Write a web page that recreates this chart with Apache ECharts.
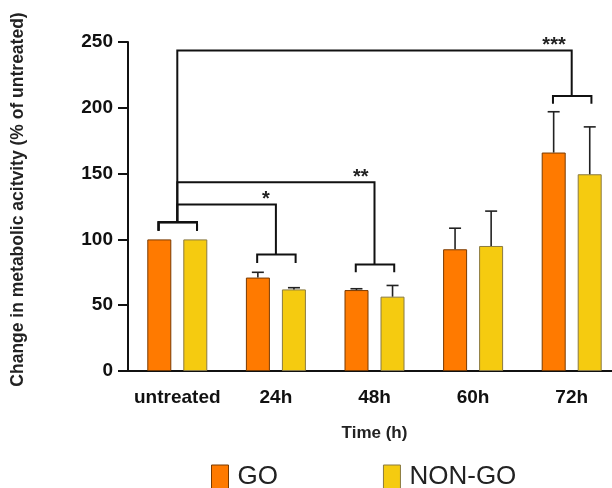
<!DOCTYPE html>
<html>
<head>
<meta charset="utf-8">
<script src="https://cdn.jsdelivr.net/npm/echarts@6/dist/echarts.min.js"></script>
<style>
  html, body { margin: 0; padding: 0; background: #fff; }
  #chart { width: 612px; height: 488px; }
</style>
</head>
<body>
<div id="chart"></div>
<script>
// data
var categories = ['untreated', '24h', '48h', '60h', '72h'];
var goMean = [100, 71, 61.5, 92.5, 166];
var goErr = [100, 75, 62.5, 108.5, 197];       // upper end of error bar
var nonGoMean = [100, 62, 56.5, 95, 149.5];
var nonGoErr = [100, 63.3, 65, 121.5, 185.5];

// significance brackets: untreated vs target group
var sigTarget = [1, 2, 4];
var sigLabel = ['*', '**', '***'];
var sigTop = [126.5, 143.5, 243.5];     // level of the long horizontal line
var sigGroupY = [88.5, 81, 209];        // level of the small bracket over the target pair
var sigGroupLeg = [82, 75, 203];        // bottom of its legs
var refGroupY = 113;                    // small bracket over untreated pair
var refGroupLeg = 106.5;

var FONT = '"Liberation Sans", Arial, sans-serif';
var BAR_OFF = 0.183;   // bar centre offset, in category widths

var chart = echarts.init(document.getElementById('chart'));

function errorItem(offset, means, errs) {
    return function (params, api) {
        var i = api.value(0);
        var band = api.size([1, 0])[0];
        var base = api.coord([i, means[i]]);
        var top = api.coord([i, errs[i]]);
        var x = base[0] + offset * band;
        if (errs[i] <= means[i]) return null;
        return {
            type: 'group',
            children: [
                { type: 'line', shape: { x1: x, y1: base[1], x2: x, y2: top[1] }, style: { stroke: '#222', lineWidth: 1.6 } },
                { type: 'line', shape: { x1: x - 6, y1: top[1], x2: x + 6, y2: top[1] }, style: { stroke: '#222', lineWidth: 1.6 } }
            ]
        };
    };
}

function bracketItem(params, api) {
    var k = params.dataIndex;
    var band = api.size([1, 0])[0];
    var t = sigTarget[k];
    var st = { stroke: '#111', lineWidth: 2, fill: null };
    var p = function (c, v, off) {
        var pt = api.coord([c, v]);
        return [pt[0] + (off || 0) * band, pt[1]];
    };
    var kids = [];
    // small bracket over untreated pair
    kids.push({ type: 'polyline', shape: { points: [p(0, refGroupLeg, -0.19), p(0, refGroupY, -0.19), p(0, refGroupY, 0.2), p(0, refGroupLeg, 0.2)] }, style: st });
    // small bracket over target pair
    kids.push({ type: 'polyline', shape: { points: [p(t, sigGroupLeg[k], -0.19), p(t, sigGroupY[k], -0.19), p(t, sigGroupY[k], 0.2), p(t, sigGroupLeg[k], 0.2)] }, style: st });
    // connector
    kids.push({ type: 'polyline', shape: { points: [p(0, refGroupY), p(0, sigTop[k]), p(t, sigTop[k]), p(t, sigGroupY[k])] }, style: st });
    var lp = p(t, sigTop[k], 0);
    kids.push({
        type: 'text',
        x: lp[0] - 6, y: lp[1] + 5,
        style: { text: sigLabel[k], textAlign: 'right', textVerticalAlign: 'bottom', font: 'bold 20px ' + FONT, fill: '#222' }
    });
    return { type: 'group', children: kids };
}

var option = {
    backgroundColor: '#fff',
    animation: false,
    grid: { left: 128, top: 42, height: 329, width: 493, outerBoundsMode: 'none', containLabel: false },
    legend: {
        top: 459,
        left: 206,
        icon: 'rect',
        itemWidth: 17,
        itemHeight: 24,
        itemGap: 105,
        textStyle: { fontFamily: FONT, fontSize: 26, color: '#222', padding: [0, 0, 0, 4] },
        data: [
            { name: 'GO', itemStyle: { color: '#FF7A00', borderColor: '#7a3a00', borderWidth: 1 } },
            { name: 'NON-GO', itemStyle: { color: '#F5CB10', borderColor: '#8a7a40', borderWidth: 1 } }
        ]
    },
    xAxis: {
        type: 'category',
        data: categories,
        name: 'Time (h)',
        nameLocation: 'middle',
        nameGap: 54,
        nameTextStyle: { fontFamily: FONT, fontWeight: 'bold', fontSize: 17, color: '#222' },
        axisLine: { lineStyle: { color: '#111', width: 2 } },
        axisTick: { alignWithLabel: true, length: 11, lineStyle: { color: '#111', width: 2 } },
        axisLabel: { interval: 0, fontFamily: FONT, fontWeight: 'bold', fontSize: 19, color: '#111', margin: 17 }
    },
    yAxis: {
        type: 'value',
        min: 0,
        max: 250,
        interval: 50,
        name: 'Change in metabolic acitvity (% of untreated)',
        nameLocation: 'middle',
        nameGap: 101,
        nameTextStyle: { fontFamily: FONT, fontWeight: 'bold', fontSize: 17.5, color: '#222', padding: [0, 0, 0, 14] },
        axisLine: { show: true, lineStyle: { color: '#111', width: 2 } },
        axisTick: { show: true, length: 10, lineStyle: { color: '#111', width: 2 } },
        axisLabel: { fontFamily: FONT, fontWeight: 'bold', fontSize: 19, color: '#111', margin: 15 },
        splitLine: { show: false }
    },
    series: [
        {
            name: 'GO',
            type: 'bar',
            data: goMean,
            barWidth: 24,
            barGap: '50%',
            itemStyle: { color: '#FF7A00', borderColor: '#7a3a00', borderWidth: 1 }
        },
        {
            name: 'NON-GO',
            type: 'bar',
            data: nonGoMean,
            barWidth: 24,
            itemStyle: { color: '#F5CB10', borderColor: '#8a7a40', borderWidth: 1 }
        },
        {
            type: 'custom',
            renderItem: errorItem(-BAR_OFF, goMean, goErr),
            data: categories.map(function (c, i) { return [i]; }),
            z: 3
        },
        {
            type: 'custom',
            renderItem: errorItem(BAR_OFF, nonGoMean, nonGoErr),
            data: categories.map(function (c, i) { return [i]; }),
            z: 3
        },
        {
            type: 'custom',
            renderItem: bracketItem,
            data: sigTarget.map(function (t) { return [t]; }),
            z: 4
        }
    ]
};

chart.setOption(option);
</script>
</body>
</html>
